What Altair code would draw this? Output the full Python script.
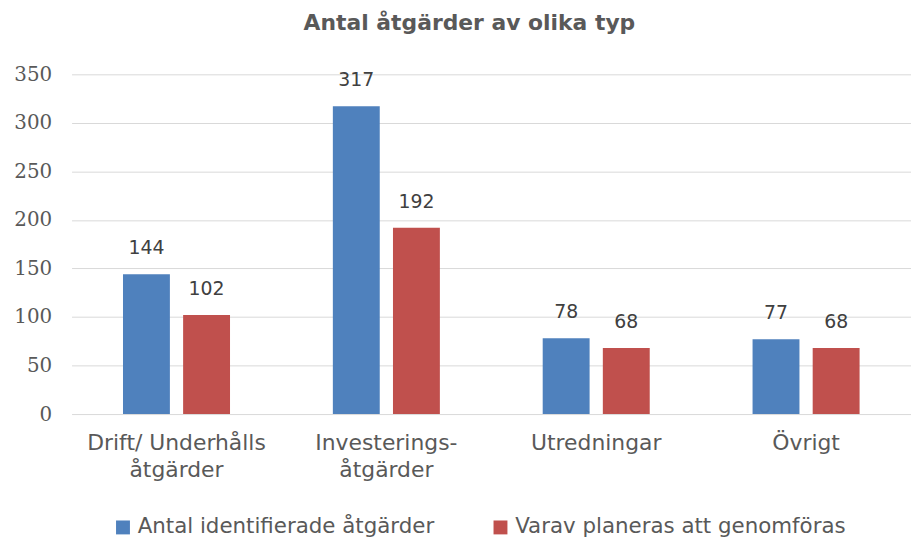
import altair as alt
import pandas as pd

categories = ["Drift/ Underhålls\nåtgärder", "Investerings-\nåtgärder", "Utredningar", "Övrigt"]
series = ["Antal identifierade åtgärder", "Varav planeras att genomföras"]
identified = [144, 317, 78, 77]
planned = [102, 192, 68, 68]
colors = ["#4F81BD", "#C0504D"]

rows = []
for c, a, b in zip(categories, identified, planned):
    rows.append({"cat": c, "serie": series[0], "value": a})
    rows.append({"cat": c, "serie": series[1], "value": b})
df = pd.DataFrame(rows)

font = "DejaVu Sans"
gray = "#595959"

base = alt.Chart(df).encode(
    x=alt.X("cat:N", sort=categories, title=None,
            scale=alt.Scale(paddingInner=0.49, paddingOuter=0.245),
            axis=alt.Axis(labelAngle=0, labelExpr="split(datum.label, '\\n')",
                          labelFont=font, labelFontSize=22, labelColor=gray,
                          labelPadding=19, labelLineHeight=27, domain=False, ticks=False)),
    xOffset=alt.XOffset("serie:N", sort=series, scale=alt.Scale(paddingInner=0.22, paddingOuter=0)),
    y=alt.Y("value:Q", title=None,
            scale=alt.Scale(domain=[0, 350], nice=False),
            axis=alt.Axis(values=list(range(0, 351, 50)), labelFont="DejaVu Serif, serif",
                          labelFontSize=20, labelColor=gray, labelPadding=20,
                          domain=False, ticks=False, gridColor="#d9d9d9")),
)

bars = base.mark_bar().encode(
    color=alt.Color("serie:N", sort=series, title=None,
                    scale=alt.Scale(domain=series, range=colors),
                    legend=alt.Legend(orient="none", legendX=41, legendY=445,
                                      direction="horizontal", symbolType="square",
                                      symbolSize=196, symbolStrokeWidth=0,
                                      labelFont=font, labelFontSize=21.5, labelColor=gray,
                                      columnPadding=55, labelOffset=4, labelLimit=400))
)

labels = base.mark_text(baseline="bottom", dy=-16, font=font, fontSize=19, color="#404040").encode(
    text="value:Q"
)

chart = (bars + labels).properties(
    width=845, height=342,
    title=alt.Title("Antal åtgärder av olika typ", font=font, fontSize=22, fontWeight="bold",
                    color=gray, offset=30, anchor="middle", dx=-22),
    autosize=alt.AutoSizeParams(type="none"),
    padding={"left": 64, "top": 65, "right": 0, "bottom": 124},
).configure_view(stroke=None)

chart.save("out.html", embed_options={"renderer": "svg", "actions": False})
